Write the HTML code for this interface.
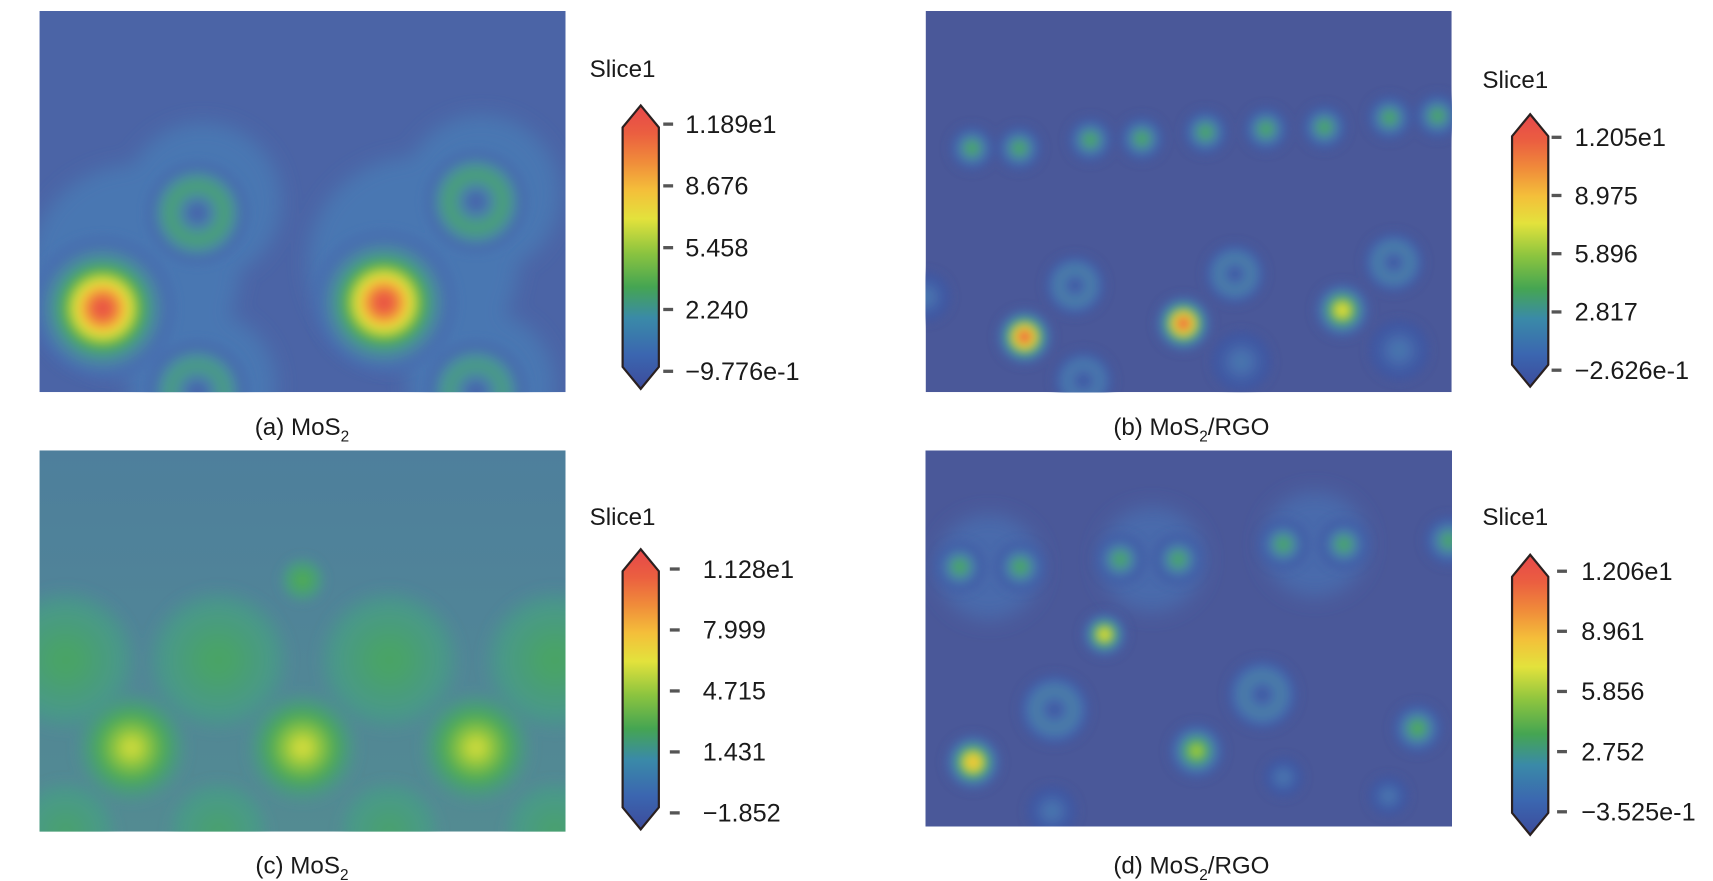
<!DOCTYPE html>
<html><head><meta charset="utf-8">
<style>
html,body{margin:0;padding:0;background:#fff;}
svg{display:block;}
text{font-family:"Liberation Sans",Arial,sans-serif;fill:#1a1a1a;}
</style></head>
<body>
<svg id="fig" width="1713" height="881" viewBox="0 0 1560 802" preserveAspectRatio="none" xmlns="http://www.w3.org/2000/svg">
<defs>
<filter id="blur" x="-20%" y="-20%" width="140%" height="140%"><feGaussianBlur stdDeviation="4"/></filter>
<filter id="blur2" x="-20%" y="-20%" width="140%" height="140%"><feGaussianBlur stdDeviation="9"/></filter>
<linearGradient id="cbgrad" x1="0" y1="1" x2="0" y2="0">
<stop offset="0" stop-color="#3c4b9b"/><stop offset="0.12" stop-color="#3b66b0"/>
<stop offset="0.25" stop-color="#3a8aa8"/><stop offset="0.36" stop-color="#45a552"/>
<stop offset="0.48" stop-color="#8cc43f"/><stop offset="0.6" stop-color="#e3e23c"/>
<stop offset="0.7" stop-color="#f4bf3a"/><stop offset="0.8" stop-color="#f08c3a"/>
<stop offset="0.9" stop-color="#eb5f40"/><stop offset="1" stop-color="#e6474a"/>
</linearGradient>
</defs>
</svg>
<script>
// ---- data ----
const panelNames = ['a','b','c','d'];
const tickA = [11.89, 8.676, 5.458, 2.240, -0.9776];
const tickLabelsA = ['1.189e1','8.676','5.458','2.240','\u22129.776e-1'];
const tickB = [12.05, 8.975, 5.896, 2.817, -0.2626];
const tickLabelsB = ['1.205e1','8.975','5.896','2.817','\u22122.626e-1'];
const tickC = [11.28, 7.999, 4.715, 1.431, -1.852];
const tickLabelsC = ['1.128e1','7.999','4.715','1.431','\u22121.852'];
const tickD = [12.06, 8.961, 5.856, 2.752, -0.3525];
const tickLabelsD = ['1.206e1','8.961','5.856','2.752','\u22123.525e-1'];
// blobs: [fx, fy, radiusFrac, peakValue(0-1), type] fx,fy fractions of panel
const blobsA = [[0.12,0.78,0.14,0.96,'s'],[0.655,0.765,0.14,0.96,'s'],[0.30,0.53,0.1,0.30,'r'],[0.83,0.50,0.1,0.30,'r'],[0.30,1.0,0.1,0.28,'r'],[0.83,1.0,0.1,0.28,'r']];
const haloA = [[0.18,0.68,0.2],[0.31,0.5,0.15],[0.71,0.66,0.2],[0.84,0.48,0.15],[0.31,0.98,0.14],[0.84,0.98,0.14]];
const blobsB = [[0.088,0.36,0.045,0.37,'s'],[0.178,0.36,0.045,0.37,'s'],[0.313,0.338,0.045,0.37,'s'],[0.411,0.335,0.045,0.37,'s'],[0.532,0.318,0.045,0.37,'s'],[0.647,0.31,0.045,0.37,'s'],[0.758,0.305,0.045,0.37,'s'],[0.882,0.28,0.045,0.37,'s'],[0.973,0.275,0.045,0.37,'s'],
 [0.188,0.855,0.055,0.97,'s'],[0.49,0.82,0.055,0.96,'s'],[0.792,0.785,0.055,0.66,'s'],
 [0.284,0.72,0.06,0.17,'r'],[0.588,0.69,0.06,0.17,'r'],[0.89,0.66,0.06,0.17,'r'],[0.30,0.97,0.06,0.15,'r'],[0.60,0.92,0.06,0.15,'s'],[0.9,0.89,0.06,0.15,'s'],[0.0,0.75,0.05,0.15,'s']];
const haloB = [];
const blobsC = [[0.50,0.34,0.045,0.38,'s'],[0.05,0.55,0.14,0.34,'s'],[0.34,0.55,0.14,0.34,'s'],[0.665,0.55,0.14,0.34,'s'],[0.98,0.55,0.14,0.34,'s'],
 [0.175,0.78,0.11,0.57,'s'],[0.50,0.78,0.11,0.58,'s'],[0.83,0.78,0.11,0.57,'s'],[0.05,1.0,0.1,0.32,'s'],[0.34,1.0,0.1,0.32,'s'],[0.665,1.0,0.1,0.32,'s'],[0.98,1.0,0.1,0.32,'s']];
const haloC = [];
const blobsD = [[0.065,0.31,0.05,0.37,'s'],[0.18,0.31,0.05,0.37,'s'],[0.37,0.29,0.05,0.36,'s'],[0.48,0.29,0.05,0.36,'s'],[0.68,0.25,0.05,0.36,'s'],[0.795,0.25,0.05,0.36,'s'],[0.995,0.24,0.05,0.36,'s'],
 [0.34,0.49,0.045,0.66,'s'],[0.09,0.83,0.055,0.76,'s'],[0.515,0.8,0.055,0.54,'s'],[0.935,0.74,0.05,0.4,'s'],
 [0.245,0.69,0.07,0.17,'r'],[0.64,0.65,0.07,0.17,'r'],[0.24,0.96,0.05,0.15,'s'],[0.68,0.87,0.04,0.15,'s'],[0.88,0.92,0.04,0.15,'s']];
const haloD = [[0.12,0.31,0.1],[0.43,0.29,0.1],[0.74,0.25,0.1]];
</script>
<script>
const NS='http://www.w3.org/2000/svg';
const svg=document.getElementById('fig');
const stops=[[0,[60,75,155]],[0.12,[72,112,176]],[0.25,[72,148,150]],[0.36,[75,168,90]],[0.48,[140,196,63]],[0.6,[227,226,60]],[0.7,[244,191,58]],[0.8,[240,140,58]],[0.9,[235,95,64]],[1,[230,71,74]]];
function cmap(t){t=Math.max(0,Math.min(1,t));for(let i=1;i<stops.length;i++){if(t<=stops[i][0]){const a=stops[i-1],b=stops[i];const f=(t-a[0])/(b[0]-a[0]);const c=a[1].map((v,k)=>Math.round(v+(b[1][k]-v)*f));return 'rgb('+c.join(',')+')';}}return 'rgb(230,71,74)';}
function mk(tag,attrs,parent){const e=document.createElementNS(NS,tag);for(const k in attrs)e.setAttribute(k,attrs[k]);(parent||svg).appendChild(e);return e;}
const panels={
 a:{x:36,y:10,w:479,h:347,bg:'#4b64a6',base:0.06,soft:false,blobs:blobsA,halo:haloA,haloCol:'#4a77b2',ticks:tickA,labels:tickLabelsA,cb:{x:567,top:96,bot:354,t0:113,t1:338,lx:624,dx:604},slice:[537,70],cap:[275,396,'(a) MoS','']},
 b:{x:843,y:10,w:479,h:347,bg:'#4a5899',base:0.03,soft:false,blobs:blobsB,halo:haloB,haloCol:'#4a6aac',ticks:tickB,labels:tickLabelsB,cb:{x:1377,top:104,bot:352,t0:125,t1:337,lx:1434,dx:1413},slice:[1350,80],cap:[1085,396,'(b) MoS','/RGO']},
 c:{x:36,y:410,w:479,h:347,bg:'#4e7f9c',base:0.27,soft:true,blobs:blobsC,halo:haloC,haloCol:'#4e8a98',ticks:tickC,labels:tickLabelsC,cb:{x:567,top:500,bot:755,t0:518,t1:740,lx:640,dx:610},slice:[537,478],cap:[275,795,'(c) MoS','']},
 d:{x:843,y:410,w:479,h:342,bg:'#4a5899',base:0.03,soft:false,blobs:blobsD,halo:haloD,haloCol:'#4a6aac',ticks:tickD,labels:tickLabelsD,cb:{x:1377,top:505,bot:760,t0:520,t1:739,lx:1440,dx:1418},slice:[1350,478],cap:[1085,795,'(d) MoS','/RGO']}
};
panelNames.forEach(n=>{
 const p=panels[n];
 const g=mk('g',{});
 
 
 const cp=mk('clipPath',{id:'clip'+n},svg.querySelector('defs'));
 mk('rect',{x:p.x,y:p.y,width:p.w,height:p.h},cp);
 const inner=mk('g',{'clip-path':'url(#clip'+n+')'},g);
 mk('rect',{x:p.x,y:p.y,width:p.w,height:p.h,fill:p.bg},inner);
 if(n==='c'){
  const gr=mk('linearGradient',{id:'cg',x1:0,y1:0,x2:0,y2:1},svg.querySelector('defs'));
  mk('stop',{offset:0,'stop-color':'#4e7f9c'},gr);mk('stop',{offset:1,'stop-color':'#538b92'},gr);
  inner.lastChild.setAttribute('fill','url(#cg)');
 }
 const hg=mk('g',{filter:'url(#blur2)'},inner);
 p.halo.forEach(h=>{const c=mk('circle',{cx:p.x+h[0]*p.w,cy:p.y+h[1]*p.h,r:h[2]*p.w,fill:p.haloCol},hg);
  });
 const bg=mk('g',{filter:'url(#blur)'},inner);
 p.blobs.forEach(b=>{
  const cx=p.x+b[0]*p.w, cy=p.y+b[1]*p.h, R=b[2]*p.w, pk=b[3];
  const bl=mk('g',{},bg);
  
  
  const N=12;
  for(let i=0;i<N;i++){
   const rf=1-i/N;
   let t;
   if(b[4]==='r'){const d=(rf-0.55)/0.3;t=p.base+(pk-p.base)*Math.exp(-d*d);}
   else t=p.base+(pk-p.base)*Math.exp(-rf*rf*3.2);
   const op=p.soft?Math.min(1,(i+1)/6):(i===0?0.45:(i===1?0.8:1));
   mk('circle',{cx:cx,cy:cy,r:R*rf,fill:cmap(t),opacity:op},bl);
  }
 });
 const cb=p.cb, x0=cb.x, x1=cb.x+33, xm=(x0+x1)/2;
 const cbg=mk('g',{});
 
 
 mk('path',{d:`M${xm},${cb.top} L${x1},${cb.top+20} L${x1},${cb.bot-20} L${xm},${cb.bot} L${x0},${cb.bot-20} L${x0},${cb.top+20} Z`,fill:'url(#cbgrad)',stroke:'#2a2020','stroke-width':2},cbg);
 const vmax=p.ticks[0], vmin=p.ticks[p.ticks.length-1];
 const ys=v=>cb.t1+(v-vmin)/(vmax-vmin)*(cb.t0-cb.t1);
 p.ticks.forEach((v,i)=>{
  const y=ys(v);
  const tk=mk('line',{x1:cb.dx,x2:cb.dx+9,y1:y,y2:y,stroke:'#555','stroke-width':3},cbg);
  
  
  const tx=mk('text',{x:cb.lx,y:y+8,'font-size':23},cbg);
  tx.textContent=p.labels[i];
  
  
 });
 const st=mk('text',{x:p.slice[0],y:p.slice[1],'font-size':22});
 st.textContent='Slice1';
 
 
 const cap=mk('text',{x:p.cap[0],y:p.cap[1],'font-size':22,'text-anchor':'middle'});
 
 
 const t1=mk('tspan',{},cap);t1.textContent=p.cap[2];
 const t2=mk('tspan',{dy:6,'font-size':14},cap);t2.textContent='2';
 if(p.cap[3]){const t3=mk('tspan',{dy:-6},cap);t3.textContent=p.cap[3];}
});
</script>
</body></html>
